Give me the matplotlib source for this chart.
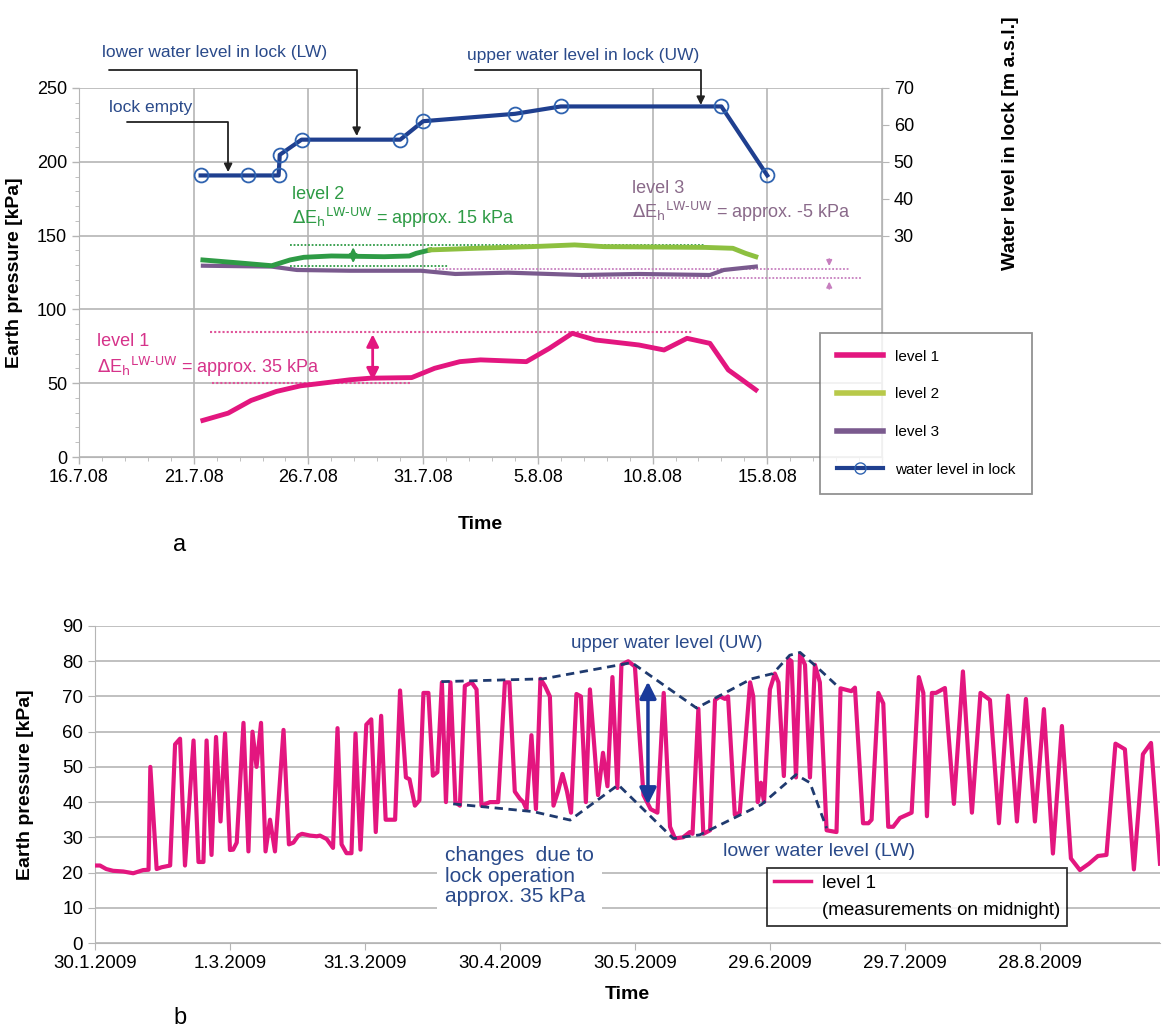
import numpy as np
import matplotlib.pyplot as plt
from matplotlib.lines import Line2D

plt.rcParams['font.family'] = ['Liberation Sans', 'DejaVu Sans']

# ---------------- panel a: days after 16.7.08 ----------------
top_ticks = [0, 5, 10, 15, 20, 25, 30, 35]
top_labels = ["16.7.08", "21.7.08", "26.7.08", "31.7.08", "5.8.08", "10.8.08", "15.8.08", ""]

water_days = [5.3, 7.35, 8.7, 8.75, 9.7, 14.0, 15.0, 19.0, 21.0, 28.0, 30.0]
water_level = [46.3, 46.3, 46.3, 51.9, 56.0, 56.0, 61.0, 63.0, 65.0, 65.0, 46.3]

l1_days = [5.4, 6.5, 7.5, 8.6, 9.65, 10.6, 11.8, 12.7, 14.5, 15.5, 16.6, 17.5, 19.5,
           20.5, 21.5, 22.5, 24.4, 25.5, 26.5, 27.5, 28.3, 28.9, 29.5]
l1_vals = [24.8, 29.7, 38.3, 44.4, 48.2, 50.0, 52.3, 53.4, 53.8, 60.1, 64.6, 65.8, 64.6,
           73.6, 83.8, 79.3, 75.9, 72.5, 80.4, 77.0, 59.0, 52.3, 45.5]

l2_days = [5.4, 7.2, 8.4, 9.2, 9.8, 11.0, 13.3, 14.4, 14.7, 15.3, 17.5, 19.7,
           21.6, 22.9, 27.3, 28.5, 29.05, 29.5]
l2_vals = [133.5, 131.2, 129.6, 133.5, 135.3, 136.2, 135.7, 136.2, 138.0, 140.3, 141.5, 142.5,
           143.7, 142.5, 142.0, 141.4, 138.0, 135.7]

l3_days = [5.4, 8.4, 9.5, 11.8, 14.9, 16.4, 18.7, 19.7, 21.9, 24.4, 27.5, 28.1, 29.5]
l3_vals = [129.6, 129.0, 126.7, 126.2, 126.2, 124.0, 124.9, 124.4, 123.3, 124.0, 123.3, 126.7, 129.0]

# ---------------- panel b: days after 30.1.2009 ----------------
bot_ticks = [0, 30, 60, 90, 120, 150, 180, 210]
bot_labels = ["30.1.2009", "1.3.2009", "31.3.2009", "30.4.2009", "30.5.2009",
              "29.6.2009", "29.7.2009", "28.8.2009"]

b_days = [0, 1.1, 2.5, 4, 6.3, 8.5, 10.7, 11.9, 12.3, 13.7, 14.8, 16.7, 17.8, 18.9, 20,
          21.9, 23, 24.1, 24.8, 25.9, 26.9, 27.9, 28.9, 30, 30.7, 31.5, 33, 34.1, 35, 35.9,
          36.9, 37.9, 38.9, 40, 41.9, 43.1, 44.1, 45.2, 46, 47.8, 49.3, 50, 51.5, 52.9, 53.9,
          54.8, 55.9, 57, 57.9, 59, 60.3, 61.4, 62.4, 63.6, 64.6, 66.7, 67.8, 69.1, 69.9, 71.1,
          72.1, 73, 74.1, 75.1, 76.1, 77.1, 78, 79, 80.1, 81.1, 82.2, 83.7, 84.8, 85.9, 87.8,
          89.6, 91.1, 92.1, 93.3, 94.4, 95.2, 95.9, 97, 98, 99, 100, 101.1, 101.9, 102.9,
          103.9, 104.9, 105.8, 107, 108, 109.1, 110, 111.8, 112.9, 113.9, 115, 116.1, 117,
          118.5, 120, 121.9, 123.5, 125, 126.4, 127.8, 128.9, 130.7, 132.2, 132.8, 134.1,
          135.2, 136.7, 137.8, 138.9, 140, 140.7, 142.2, 143.3, 145.6, 146.3, 147.3, 148,
          148.7, 150, 151.1, 151.9, 153.1, 154.1, 154.8, 155.8, 156.7, 157.8, 158.9, 160,
          161.1, 162.6, 164.8, 165.7, 168.1, 168.9, 170.7, 171.9, 172.6, 174.1, 175.2, 176.3,
          177.4, 178.9, 181.5, 183.1, 184.1, 184.9, 186, 186.9, 188.9, 190.9, 192.9, 194.9,
          196.8, 198.9, 200.9, 202.9, 204.9, 206.9, 208.9, 210.9, 212.9, 214.9, 216.9, 218.9,
          220.9, 222.9, 224.8, 226.8, 228.9, 230.9, 232.9, 234.7, 236.7]
b_vals = [22, 22, 21, 20.5, 20.3, 19.8, 20.7, 20.8, 50, 21, 21.5, 22, 56.4, 58, 22,
          57.5, 23, 23, 57.5, 25, 58.5, 34.5, 59.5, 26.4, 26.5, 28.5, 62.5, 26, 60, 50,
          62.5, 26, 35, 26, 60.5, 28, 28.5, 30.5, 31, 30.5, 30.3, 30.5, 29.5, 27, 61,
          28, 25.5, 25.5, 59.5, 26.5, 62, 63.5, 31.5, 64.5, 35, 35, 71.7, 47, 46.5, 39,
          40.5, 71, 71, 47.5, 48.5, 74, 40, 74, 40, 39, 73, 74, 72, 39, 40,
          40, 74, 74, 43, 41, 40, 38, 59, 38, 75, 73, 70, 39, 43,
          48, 43, 37, 70.7, 70, 40, 72, 42, 54, 44.5, 75.5, 44, 79,
          80, 78.5, 42, 38, 37, 71, 33, 29.7, 30, 31.5, 31, 66.5,
          31, 32, 69, 70, 69.3, 70, 36.4, 37, 74, 70, 40, 45.5,
          40, 72, 76.5, 74, 47.4, 80.7, 80, 47, 82, 79, 47, 79,
          74, 32, 31.5, 72.3, 71.5, 72.5, 34, 34, 35, 71, 68, 33,
          33, 35.5, 37, 75.5, 71, 36, 71, 71, 72.4, 39.5, 77.1, 37,
          71, 69, 34, 70.2, 34.5, 69.3, 34.5, 66.4, 25.4, 61.6, 24, 20.7,
          22.5, 24.7, 25, 56.6, 55, 20.9, 53.6, 56.8, 22.5]

uw_days = [77, 99.6, 119.3, 133.7, 145.9, 150.7, 154.4, 156.7, 160.4, 165.2]
uw_vals = [74.2, 75, 79.6, 66.7, 75, 76.5, 81.7, 82.5, 78.4, 72.7]
lw_days = [79.6, 97.4, 105.6, 116.3, 128.5, 134.4, 148.1, 155.8, 158.9, 162.6]
lw_vals = [39.5, 37.3, 34.9, 44.9, 29.7, 30.7, 39.3, 47.8, 45.5, 32.6]

PINK = '#e3167f'
GREEN_D = '#2e9b45'
GREEN_L = '#8dc040'
PURPLE = '#7a5a8e'
BLUE = '#1f3f8f'
TXT_BLUE = '#2a4a8a'
GRID = '#b5b5b5'

fig = plt.figure(figsize=(11.62, 10.33), dpi=100)

# ================= panel a =================
ax = fig.add_axes([79/1162, 1-457/1033, (882-79)/1162, (457-88)/1033])
ax.set_xlim(0, 35)
ax.set_ylim(0, 250)
ax.set_xticks(top_ticks)
ax.set_xticklabels(top_labels, fontsize=13)
ax.set_xticks(np.arange(0, 36, 1), minor=True)
ax.set_yticks([0, 50, 100, 150, 200, 250])
ax.set_yticks(np.arange(0, 251, 10), minor=True)
ax.tick_params(labelsize=13, color=GRID, length=5, width=1)
ax.tick_params(which='minor', color=GRID, length=3)
ax.grid(True, which='major', color=GRID, lw=1.2)
ax.set_axisbelow(True)
for s in ax.spines.values():
    s.set_color(GRID)
ax.spines['top'].set_visible(False)
ax.set_xlabel("Time", fontsize=14, fontweight='bold', labelpad=22)
ax.set_ylabel("Earth pressure [kPa]", fontsize=14, fontweight='bold', labelpad=10)

ax.plot(l1_days, l1_vals, color=PINK, lw=3.5, zorder=4)
split = 10
ax.plot(l2_days[:split], l2_vals[:split], color=GREEN_D, lw=3.5, zorder=4)
ax.plot(l2_days[split-1:], l2_vals[split-1:], color=GREEN_L, lw=3.5, zorder=4)
ax.plot(l3_days, l3_vals, color=PURPLE, lw=3, zorder=3)

ax2 = ax.twinx()
ax2.set_ylim(-30, 70)
ax2.set_yticks([30, 40, 50, 60, 70])
ax2.tick_params(labelsize=13, color=GRID, length=5)
for s in ax2.spines.values():
    s.set_visible(False)
ax2.spines['right'].set_visible(True)
ax2.spines['right'].set_color(GRID)
ax2.set_ylabel("Water level in lock [m a.s.l.]", fontsize=14, fontweight='bold')
ax2.yaxis.set_label_coords(1.15, 0.85)
ax2.plot(water_days, water_level, color=BLUE, lw=3, marker='o', ms=10,
         mfc='none', mec='#2f63b0', mew=1.3, zorder=5)

# level 1 annotation
ax.hlines(85, 5.7, 26.7, colors='#e0559a', linestyles=(0, (1, 1)), lw=1.5)
ax.hlines(50, 5.8, 14.5, colors='#e0559a', linestyles=(0, (1, 1)), lw=1.5)
ax.annotate("", xy=(12.8, 85), xytext=(12.8, 50),
            arrowprops=dict(arrowstyle='<|-|>', color=PINK, lw=2, mutation_scale=18))
ax.text(0.8, 78, "level 1", color='#d6338a', fontsize=13, va='center')
ax.text(0.8, 61, r"$\Delta$E$_\mathrm{h}$$^\mathrm{LW\text{-}UW}$ = approx. 35 kPa",
        color='#d6338a', fontsize=13, va='center')

# level 2 annotation
ax.hlines(143.7, 9.2, 27.3, colors=GREEN_D, linestyles=(0, (1, 1)), lw=1.3)
ax.hlines(129.6, 9.2, 16.1, colors=GREEN_D, linestyles=(0, (1, 1)), lw=1.3)
ax.annotate("", xy=(11.95, 144), xytext=(11.95, 129.5),
            arrowprops=dict(arrowstyle='<|-|>', color=GREEN_D, lw=1.5, mutation_scale=12))
ax.text(9.3, 178, "level 2", color=GREEN_D, fontsize=13, va='center')
ax.text(9.3, 162, r"$\Delta$E$_\mathrm{h}$$^\mathrm{LW\text{-}UW}$ = approx. 15 kPa",
        color=GREEN_D, fontsize=13, va='center')

# level 3 annotation
ax.hlines(127.2, 15.5, 33.6, colors='#c77fbf', linestyles=(0, (1, 1)), lw=1.3)
ax.hlines(121.0, 21.9, 34.1, colors='#c77fbf', linestyles=(0, (1, 1)), lw=1.3)
ax.annotate("", xy=(32.7, 127.5), xytext=(32.7, 136),
            arrowprops=dict(arrowstyle='-|>', color='#c77fbf', lw=1.2, mutation_scale=8))
ax.annotate("", xy=(32.7, 120.7), xytext=(32.7, 112),
            arrowprops=dict(arrowstyle='-|>', color='#c77fbf', lw=1.2, mutation_scale=8))
ax.text(24.1, 182, "level 3", color='#8a6a8a', fontsize=13, va='center')
ax.text(24.1, 166, r"$\Delta$E$_\mathrm{h}$$^\mathrm{LW\text{-}UW}$ = approx. -5 kPa",
        color='#8a6a8a', fontsize=13, va='center')

# lock labels with angled arrows
arrow_kw = dict(arrowstyle='-|>', color='#222222', lw=1.3, mutation_scale=12,
                connectionstyle='angle,angleA=0,angleB=90,rad=0', shrinkA=0, shrinkB=0)
ax.annotate("", xy=(12.1, 217.5), xytext=(1.3, 262.4), arrowprops=arrow_kw, annotation_clip=False)
ax.text(1.0, 274, "lower water level in lock (LW)", color=TXT_BLUE, fontsize=12.5,
        va='center', clip_on=False)
ax.annotate("", xy=(6.5, 193), xytext=(2.1, 226.7), arrowprops=arrow_kw)
ax.text(1.3, 237, "lock empty", color=TXT_BLUE, fontsize=12.5, va='center')
ax.annotate("", xy=(27.1, 238.5), xytext=(17.25, 262), arrowprops=arrow_kw, annotation_clip=False)
ax.text(16.9, 272, "upper water level in lock (UW)", color=TXT_BLUE, fontsize=12.5,
        va='center', clip_on=False)

handles = [Line2D([], [], color=PINK, lw=4),
           Line2D([], [], color='#b8c94a', lw=4),
           Line2D([], [], color=PURPLE, lw=4),
           Line2D([], [], color=BLUE, lw=3, marker='o', ms=8, mfc='none', mec='#2f63b0')]
leg = fig.legend(handles, ["level 1", "level 2", "level 3", "water level in lock"],
                 loc='upper left', bbox_to_anchor=(820/1162, 1-333/1033), fontsize=11,
                 frameon=True, fancybox=False, edgecolor='#777777', labelspacing=1.55,
                 handlelength=3, borderpad=1.1, borderaxespad=0)
leg.get_frame().set_linewidth(1.3)

fig.text(180/1162, 1-545/1033, "a", fontsize=17, ha='center', va='center')

# ================= panel b =================
bx = fig.add_axes([95/1162, 1-943/1033, (1160-95)/1162, (943-626)/1033])
bx.set_xlim(0, 236.7)
bx.set_ylim(0, 90)
bx.set_xticks(bot_ticks)
bx.set_xticklabels(bot_labels, fontsize=13.5)
bx.set_yticks(np.arange(0, 91, 10))
bx.tick_params(labelsize=13.5, color=GRID, length=5)
bx.grid(True, axis='y', color=GRID, lw=1.2)
bx.set_axisbelow(True)
for s in ['top', 'right']:
    bx.spines[s].set_visible(False)
bx.spines['left'].set_color(GRID)
bx.spines['bottom'].set_color(GRID)
bx.set_xlabel("Time", fontsize=14, fontweight='bold', labelpad=10)
bx.set_ylabel("Earth pressure [kPa]", fontsize=14, fontweight='bold', labelpad=20)

bx.plot(b_days, b_vals, color=PINK, lw=3, zorder=3)
bx.plot(uw_days, uw_vals, color='#1f3a6f', lw=2, ls=(0, (3, 2)), zorder=4)
bx.plot(lw_days, lw_vals, color='#1f3a6f', lw=2, ls=(0, (3, 2)), zorder=4)
bx.annotate("", xy=(122.9, 75), xytext=(122.9, 38.5),
            arrowprops=dict(arrowstyle='<|-|>', color='#1a3a9a', lw=2.5, mutation_scale=25),
            zorder=5)

bx.text(127, 85, "upper water level (UW)", color=TXT_BLUE, fontsize=13.5,
        ha='center', va='center')
bx.text(139.6, 25.9, "lower water level (LW)", color=TXT_BLUE, fontsize=14,
        va='center', bbox=dict(fc='white', ec='none', pad=1))
bx.text(77.8, 27.5, "changes  due to\nlock operation\napprox. 35 kPa", color=TXT_BLUE,
        fontsize=15, va='top', linespacing=1.1,
        bbox=dict(fc='white', ec='none', pad=6))

bhandles = [Line2D([], [], color=PINK, lw=2.5), Line2D([], [], color='none')]
bleg = bx.legend(bhandles, ["level 1", "(measurements on midnight)"],
                 loc='upper left', bbox_to_anchor=(767/1162, 1-868/1033),
                 bbox_transform=fig.transFigure, fontsize=13.5, frameon=True,
                 fancybox=False, edgecolor='black', labelspacing=0.55, handlelength=2.0,
                 handletextpad=0.6, borderaxespad=0, borderpad=0.35)
bleg.get_frame().set_linewidth(1.3)

fig.text(180/1162, 1-1018/1033, "b", fontsize=17, ha='center', va='center')

fig.savefig("out.png", dpi=100, facecolor='white')
